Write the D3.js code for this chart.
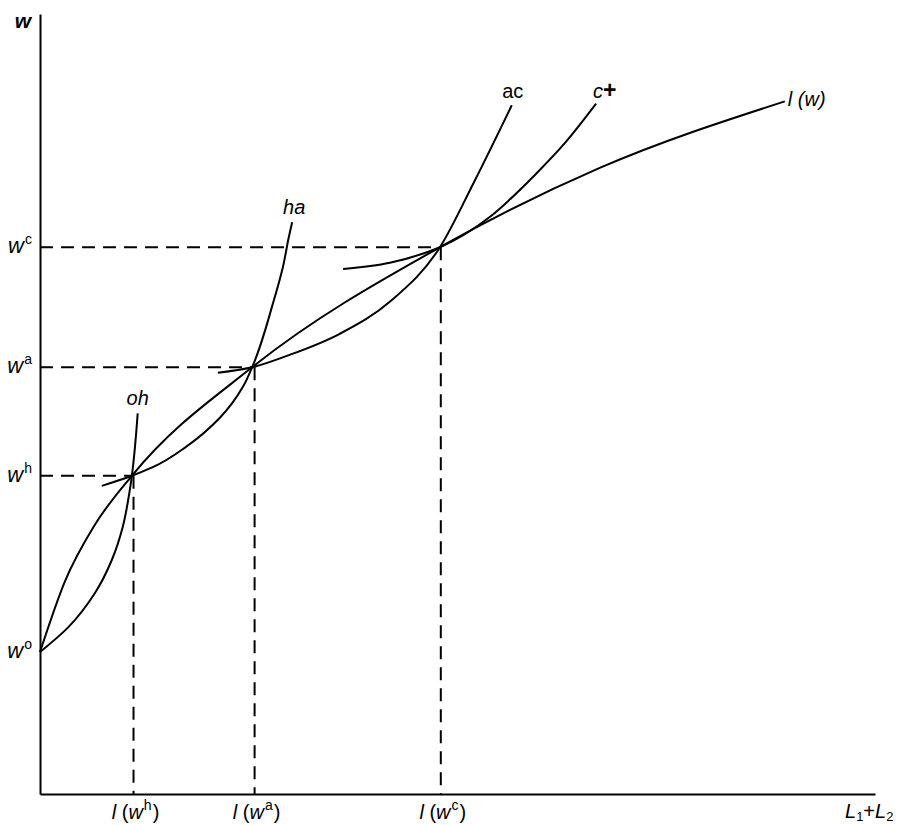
<!DOCTYPE html>
<html>
<head>
<meta charset="utf-8">
<script src="https://cdn.jsdelivr.net/npm/d3@7"></script>
<style>
  html, body { margin: 0; padding: 0; background: #fff; }
  svg { display: block; }
  text { font-family: "Liberation Sans", Arial, Helvetica, sans-serif; fill: #000; }
</style>
</head>
<body>
<svg id="chart" width="901" height="825"></svg>
<script>
// ---- data (x = L1+L2 units, y = w units) ----
const curveLW = [[0,18.2],[3.0,27.3],[6.5,34.4],[11.0,40.8],[25.4,54.7],[47.9,70.1],[67.1,80.3],[89.2,88.8]];
const curveOH = [[0,18.2],[3.4,21.4],[6.6,25.8],[8.6,30.0],[9.9,34.2],[10.7,38.6],[11.0,40.8],[11.7,48.8]];
const curveHA = [[7.4,39.5],[11.0,40.8],[13.5,41.9],[17.6,44.6],[21.6,48.3],[24.3,52.2],[25.4,54.7],[27.9,62.9],[29.1,67.6],[29.8,71.4],[30.2,73.3]];
const curveAC = [[21.3,54.0],[25.4,54.7],[29.9,56.3],[35.9,59.0],[42.0,63.2],[47.9,70.1],[52.0,78.5],[56.5,88.3]];
const curveCP = [[36.3,67.3],[41.9,68.1],[45.9,69.3],[47.9,70.1],[53.9,74.0],[59.3,79.4],[62.9,83.5],[66.6,88.5]];

const wLevels = [["o",18.2],["h",40.8],["a",54.7],["c",70.1]];
const eqPoints = [["h",11.2,40.8],["a",25.7,54.7],["c",48.0,70.1]];

// ---- scales ----
const x = d3.scaleLinear().domain([0,100]).range([40,875]);
const y = d3.scaleLinear().domain([0,100]).range([794,14]);

const svg = d3.select("#chart");

// axes (no ticks)
svg.append("g").attr("transform","translate(0,"+y(0)+")")
  .call(d3.axisBottom(x).tickValues([]).tickSizeOuter(0))
  .select(".domain").attr("stroke","#000").attr("stroke-width",2);
svg.append("g").attr("transform","translate("+x(0)+",0)")
  .call(d3.axisLeft(y).tickValues([]).tickSizeOuter(0))
  .select(".domain").attr("stroke","#000").attr("stroke-width",2);

// dashed guides
const dash = svg.append("g").attr("stroke","#000").attr("stroke-width",2)
  .attr("stroke-dasharray","13,8").attr("fill","none");
eqPoints.forEach(p => {
  dash.append("line").attr("x1",x(0)).attr("x2",x(p[1])).attr("y1",y(p[2])).attr("y2",y(p[2]));
  dash.append("line").attr("x1",x(p[1])).attr("x2",x(p[1])).attr("y1",y(p[2])).attr("y2",y(0));
});

// curves
const lineX = d3.line().x(d=>x(d[0])).y(d=>y(d[1])).curve(d3.curveMonotoneX);
const lineY = d3.line().x(d=>x(d[0])).y(d=>y(d[1])).curve(d3.curveMonotoneY);
[[curveLW,lineX],[curveOH,lineY],[curveHA,lineY],[curveAC,lineX],[curveCP,lineX]].forEach(([c,gen]) => {
  svg.append("path").datum(c).attr("d", gen)
    .attr("fill","none").attr("stroke","#000").attr("stroke-width",2);
});

// y labels
svg.append("text").attr("x",31).attr("y",28).attr("text-anchor","end")
  .attr("font-size",21).attr("font-style","italic").attr("font-weight","bold").text("w");
wLevels.forEach(([k,v]) => {
  const t = svg.append("text").attr("x",32).attr("y",y(v)+6).attr("text-anchor","end").attr("font-size",22);
  t.append("tspan").attr("font-style","italic").text("w");
  t.append("tspan").attr("font-size",14).attr("dx",1).attr("dy",-9).text(k);
});

// x labels
eqPoints.forEach(([k,v]) => {
  const t = svg.append("text").attr("x",x(v)+2).attr("y",819).attr("text-anchor","middle").attr("font-size",20);
  t.append("tspan").attr("font-style","italic").text("l");
  t.append("tspan").text(" (");
  t.append("tspan").attr("font-style","italic").text("w");
  t.append("tspan").attr("font-size",14).attr("dx",1).attr("dy",-9).text(k);
  t.append("tspan").attr("dx",1).attr("dy",9).text(")");
});
{
  const t = svg.append("text").attr("x",845).attr("y",818).attr("font-size",20);
  t.append("tspan").attr("font-style","italic").text("L");
  t.append("tspan").attr("font-size",13).attr("dy",3).text("1");
  t.append("tspan").attr("dy",-3).text("+");
  t.append("tspan").attr("font-style","italic").text("L");
  t.append("tspan").attr("font-size",13).attr("dy",3).text("2");
}

// curve labels
svg.append("text").attr("x",x(curveOH[curveOH.length-1][0])).attr("y",405).attr("text-anchor","middle")
  .attr("font-size",20).attr("font-style","italic").text("oh");
svg.append("text").attr("x",x(curveHA[curveHA.length-1][0])+2).attr("y",214).attr("text-anchor","middle")
  .attr("font-size",20).attr("font-style","italic").text("ha");
svg.append("text").attr("x",x(curveAC[curveAC.length-1][0])+1).attr("y",98).attr("text-anchor","middle")
  .attr("font-size",20).text("ac");
{
  const t = svg.append("text").attr("x",x(curveCP[curveCP.length-1][0])-3).attr("y",98).attr("font-size",20);
  t.append("tspan").attr("font-style","italic").text("c");
  t.append("tspan").attr("font-weight","bold").attr("font-size",23).text("+");
}
svg.append("text").attr("x",x(curveLW[curveLW.length-1][0])+3).attr("y",106)
  .attr("font-size",20).attr("font-style","italic").text("l (w)");
</script>
</body>
</html>
